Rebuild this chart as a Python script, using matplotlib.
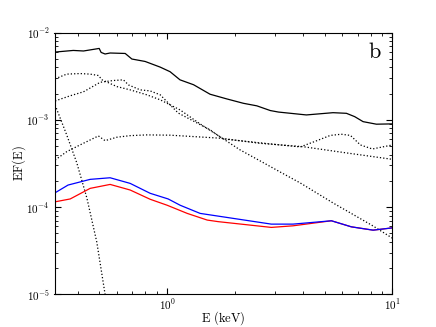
import numpy as np
import matplotlib
matplotlib.use('Agg')
import matplotlib.pyplot as plt
from matplotlib.ticker import FuncFormatter, LogLocator

plt.rcParams['mathtext.fontset'] = 'cm'

# total model (solid black)
E_tot = [0.318, 0.383, 0.425, 0.499, 0.509, 0.530, 0.558, 0.651, 0.697, 0.798, 0.931, 1.03,
         1.14, 1.31, 1.55, 1.84, 2.18, 2.50, 2.87, 3.12, 4.15, 5.45, 6.25, 6.8, 7.41, 8.49, 10.0]
F_tot = [6.0e-3, 6.26e-3, 6.17e-3, 6.6e-3, 5.94e-3, 5.7e-3, 5.85e-3, 5.78e-3, 4.99e-3, 4.68e-3,
         4.03e-3, 3.57e-3, 2.88e-3, 2.53e-3, 1.97e-3, 1.74e-3, 1.55e-3, 1.45e-3, 1.28e-3, 1.23e-3,
         1.14e-3, 1.21e-3, 1.19e-3, 1.09e-3, 9.55e-4, 8.93e-4, 9.0e-4]

# dotted components
E_a = [0.318, 0.358, 0.41, 0.455, 0.495, 0.514, 0.598, 0.685, 0.812, 0.931, 1.142, 1.40,
       1.72, 2.11, 2.59, 3.18, 3.90, 5.47, 8.23, 10.0]
F_a = [2.96e-3, 3.35e-3, 3.40e-3, 3.35e-3, 3.23e-3, 2.88e-3, 2.41e-3, 2.21e-3, 1.94e-3, 1.70e-3,
       1.30e-3, 9.0e-4, 6.38e-4, 4.52e-4, 3.38e-4, 2.52e-4, 1.89e-4, 1.11e-4, 6.05e-5, 4.4e-5]

E_b = [0.318, 0.371, 0.425, 0.504, 0.577, 0.639, 0.673, 0.759, 0.840, 0.931, 1.119, 1.553,
       1.773, 3.18, 3.90, 4.59, 5.30, 5.93, 6.51, 7.21, 8.15, 10.0]
F_b = [1.65e-3, 1.89e-3, 2.10e-3, 2.70e-3, 2.83e-3, 2.88e-3, 2.52e-3, 2.21e-3, 2.15e-3, 1.94e-3,
       1.20e-3, 7.67e-4, 6.05e-4, 5.16e-4, 4.90e-4, 5.74e-4, 6.64e-4, 6.85e-4, 6.64e-4, 5.16e-4,
       4.64e-4, 5.16e-4]

E_c = [0.318, 0.358, 0.41, 0.495, 0.530, 0.598, 0.685, 0.812, 1.03, 1.72, 2.56, 4.01, 6.43, 10.0]
F_c = [3.47e-4, 4.32e-4, 5.16e-4, 6.55e-4, 5.78e-4, 6.33e-4, 6.6e-4, 6.73e-4, 6.68e-4, 6.17e-4,
       5.40e-4, 4.93e-4, 4.14e-4, 3.53e-4]

E_d = [0.318, 0.358, 0.397, 0.440, 0.487, 0.530, 0.545]
F_d = [1.48e-3, 6.73e-4, 3.21e-4, 1.27e-4, 3.96e-5, 1.0e-5, 7.0e-6]

# data-like solid curves
E_blue = [0.318, 0.363, 0.455, 0.558, 0.685, 0.840, 1.01, 1.142, 1.40, 1.685, 2.90, 3.62,
          5.36, 6.57, 8.21, 10.0]
F_blue = [1.46e-4, 1.79e-4, 2.08e-4, 2.17e-4, 1.87e-4, 1.44e-4, 1.24e-4, 1.05e-4, 8.47e-5,
          7.88e-5, 6.38e-5, 6.38e-5, 6.97e-5, 5.94e-5, 5.44e-5, 5.78e-5]

E_red = [0.318, 0.371, 0.455, 0.558, 0.685, 0.840, 1.0, 1.227, 1.506, 1.685, 2.90, 3.62,
         5.36, 6.57, 8.21, 10.0]
F_red = [1.15e-4, 1.24e-4, 1.64e-4, 1.82e-4, 1.57e-4, 1.23e-4, 1.05e-4, 8.47e-5, 7.1e-5,
         6.81e-5, 5.85e-5, 6.1e-5, 6.97e-5, 5.94e-5, 5.44e-5, 5.78e-5]

fig = plt.figure(figsize=(4.36, 3.27), dpi=100)
ax = fig.add_axes([0.125, 0.1, 0.775, 0.8])

ax.plot(E_tot, F_tot, color='k', lw=0.9)
for e, f in [(E_a, F_a), (E_b, F_b), (E_c, F_c), (E_d, F_d)]:
    ax.plot(e, f, color='k', ls=':', lw=0.9)
ax.plot(E_red, F_red, color='r', lw=0.9)
ax.plot(E_blue, F_blue, color='b', lw=0.9)

ax.set_xscale('log')
ax.set_yscale('log')
ax.set_xlim(0.316, 10)
ax.set_ylim(1e-5, 1e-2)

fmt = FuncFormatter(lambda v, p: r'$10^{%d}$' % int(round(np.log10(v))))
ax.xaxis.set_major_formatter(fmt)
ax.yaxis.set_major_formatter(fmt)
ax.tick_params(which='both', direction='in', top=True, right=True, labelsize=8)
ax.tick_params(which='major', length=4)
ax.tick_params(which='minor', length=2)
ax.tick_params(axis='x', which='major', pad=2.5)

ax.set_xlabel(r'$\mathrm{E\ (keV)}$', fontsize=9, labelpad=-2.5)
ax.set_ylabel(r'$\mathrm{EF(E)}$', fontsize=9, labelpad=-1)
ax.text(0.967, 0.904, r'$\mathrm{b}$', transform=ax.transAxes, ha='right', va='baseline',
        fontsize=16)

fig.savefig('out.png', dpi=100)
